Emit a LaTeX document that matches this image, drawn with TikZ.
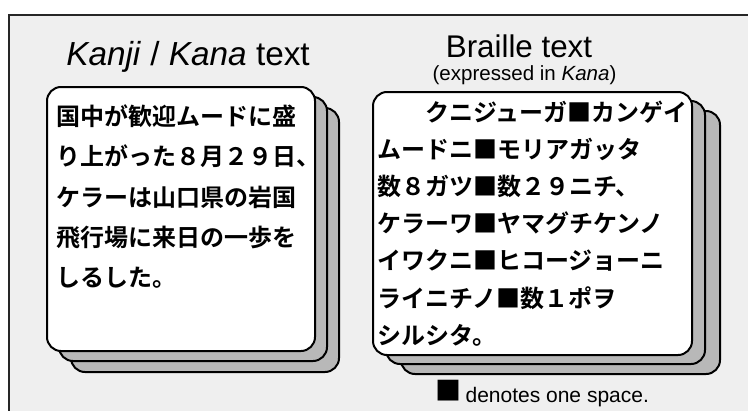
\documentclass[tikz,border=0pt]{standalone}
\usepackage{fontspec}
\setmainfont{Liberation Sans}
\newfontfamily\cjk{Noto Sans CJK JP Bold}
\definecolor{bggray}{HTML}{EFEFEF}
\definecolor{cardgray}{HTML}{B8B8B8}
\begin{document}
\begin{tikzpicture}[x=0.75pt,y=-0.75pt,
  backcard/.style={draw=black, line width=1.5pt, rounded corners=10.5pt, fill=cardgray},
  frontcard/.style={draw=black, line width=1.5pt, rounded corners=10.5pt, fill=white},
  jline/.style={anchor=base west, inner sep=0pt, font=\cjk\fontsize{18pt}{18pt}\selectfont},
  latin/.style={inner sep=0pt, font=\fontsize{#1}{#1}\selectfont},
]
\useasboundingbox (0,0) rectangle (748,410);
\clip (0,0) rectangle (748,410);
\fill[white] (0,0) rectangle (748,410);
\draw[fill=bggray, draw=black!85, line width=1.2pt] (9,15) rectangle (780,440);

% left stack
\draw[backcard] (71,108) rectangle (339,372);
\draw[backcard] (59,97) rectangle (327,361);
\draw[frontcard] (47,87) rectangle (315,351);

% right stack
\draw[backcard] (401,111) rectangle (720,374);
\draw[backcard] (386,101) rectangle (705,364);
\draw[frontcard] (373,92) rectangle (692,355);

% titles
\node[latin=25pt, anchor=base west] (t1) at (66,65) {\textit{Kanji} / \textit{Kana} text};
\node[latin=23.5pt, anchor=base] (t2) at (519,57) {Braille text};
\node[latin=15.4pt, anchor=base] (t3) at (524.5,80) {(expressed in \textit{Kana})};
\node[latin=15.75pt, anchor=base] (leg) at (542,402) {\raisebox{1.5pt}{\cjk\fontsize{19.5pt}{19.5pt}\selectfont ■}\hspace{-1pt} denotes one space.};

% left text
\node[jline] (l1) at (55.8,125.5) {国中が歓迎ムードに盛};
\node[jline] (l2) at (55.8,165.8) {り上がった８月２９日、};
\node[jline] (l3) at (55.8,206) {ケラーは山口県の岩国};
\node[jline] (l4) at (55.8,246.4) {飛行場に来日の一歩を};
\node[jline] (l5) at (55.8,286.7) {しるした。};

% right text
\node[jline] (r1) at (377,121) {　　クニジューガ■カンゲイ};
\node[jline] (r2) at (377,158.2) {ムードニ■モリアガッタ};
\node[jline] (r3) at (377,195.4) {数８ガツ■数２９ニチ、};
\node[jline] (r4) at (377,232.6) {ケラーワ■ヤマグチケンノ};
\node[jline] (r5) at (377,269.8) {イワクニ■ヒコージョーニ};
\node[jline] (r6) at (377,307) {ライニチノ■数１ポヲ};
\node[jline] (r7) at (377,344.2) {シルシタ。};
\end{tikzpicture}
\end{document}
